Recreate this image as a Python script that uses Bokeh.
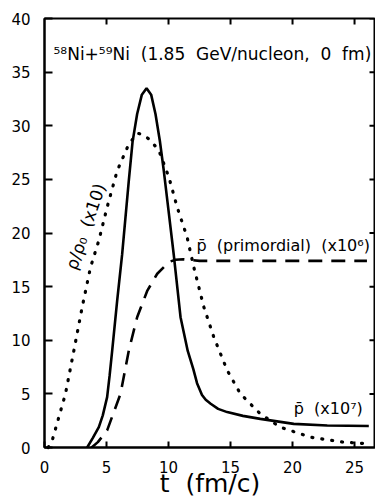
from bokeh.plotting import figure
from bokeh.models import SingleIntervalTicker, Range1d, Label
from bokeh.embed import file_html
from bokeh.resources import INLINE
import math

# p-bar (x10^7), solid
t_pbar = [3.44, 3.9, 4.38, 4.7, 5.05, 5.25, 5.46, 5.86, 6.26, 6.8, 7.1, 7.47, 7.85, 8.23, 8.6,
          8.95, 9.3, 9.62, 10.03, 10.43, 10.97, 11.55, 12.0, 12.3, 12.7, 13.0, 13.4, 14.0,
          14.73, 16.0, 17.4, 20.1, 22.8, 26.15]
v_pbar = [0.0, 0.9, 1.9, 3.0, 4.7, 6.7, 9.05, 13.7, 18.0, 24.9, 28.5, 31.1, 32.9, 33.5, 32.9,
          31.1, 28.6, 25.8, 21.8, 17.9, 12.15, 9.0, 7.3, 6.0, 4.9, 4.45, 4.08, 3.6,
          3.3, 2.95, 2.67, 2.2, 2.05, 2.0]

# rho/rho0 (x10), dotted
t_rho = [0.3, 0.62, 1.69, 2.37, 3.04, 3.71, 4.38, 5.05, 5.86, 6.8, 7.5, 7.88, 8.5, 9.22,
         10.03, 10.7, 11.5, 12.04, 12.85, 13.65, 14.73, 15.8, 17.4, 19.0, 21.45, 24.1, 26.15]
v_rho = [0.0, 0.65, 5.0, 9.05, 13.1, 16.8, 19.3, 22.4, 25.8, 28.3, 29.3, 29.2, 28.7, 27.7,
         25.2, 22.4, 19.6, 16.8, 13.1, 10.3, 7.2, 5.0, 3.14, 1.9, 0.96, 0.5, 0.34]

# primordial p-bar (x10^6), dashed
t_prim = [3.8, 4.3, 5.05, 6.13, 6.8, 7.47, 8.28, 9.09, 10.03, 10.56, 11.2, 12.5, 26.0]
v_prim = [0.0, 0.5, 1.6, 5.0, 9.05, 12.15, 14.6, 16.2, 17.3, 17.5, 17.55, 17.4, 17.4]

# tick values
x_ticks = [5, 10, 15, 20, 25]
y_ticks = [5, 10, 15, 20, 25, 30, 35, 40]

NB = "\u00a0"
# annotations
ann_text = ["\u2075\u2078Ni+\u2075\u2079Ni" + NB + " (1.85" + NB + " GeV/nucleon," + NB + " 0" + NB + " fm)",
            "p\u0304" + NB + " (primordial)" + NB + " (x10\u2076)",
            "p\u0304" + NB + " (x10\u2077)",
            "\u03c1/\u03c1\u2080" + NB + " (x10)"]
ann_t = [0.73, 12.26, 20.1, 3.31]
ann_v = [36.7, 18.84, 3.64, 20.6]
ann_size = ["17px", "16px", "16px", "17px"]
ann_angle = [0, 0, 0, 71]
ann_align = ["left", "left", "left", "center"]

FONT = "DejaVu Sans"
X_END = 26.69
Y_END = 40

p = figure(width=375, height=500, x_range=Range1d(0, X_END), y_range=Range1d(0, Y_END),
           output_backend="svg", toolbar_location=None,
           min_border_left=44, min_border_right=0, min_border_top=18, min_border_bottom=53)
p.xgrid.visible = False
p.ygrid.visible = False
p.outline_line_color = "black"
p.outline_line_width = 2

p.line(t_pbar, v_pbar, line_color="black", line_width=2.6)
p.line(t_prim, v_prim, line_color="black", line_width=2.6, line_dash="14 9")

# inward ticks on top and right sides
p.ray(x=x_ticks, y=[Y_END] * len(x_ticks), length=6, length_units="screen",
      angle=-90, angle_units="deg", line_color="black", line_width=2)
p.ray(x=[X_END] * len(y_ticks), y=y_ticks, length=6, length_units="screen",
      angle=180, angle_units="deg", line_color="black", line_width=2)

dotted = p.line(t_rho, v_rho, line_color="black", line_width=3.2, line_dash="1 9",
                line_cap="round")
dotted.level = "overlay"

for t, v, s, size, ang, al in zip(ann_t, ann_v, ann_text, ann_size, ann_angle, ann_align):
    p.add_layout(Label(x=t, y=v, text=s, text_font=FONT, text_font_size=size,
                       text_baseline="middle", text_align=al, angle=math.radians(ang),
                       text_color="black", level="overlay"))

ax = p.xaxis[0]
ax.ticker = SingleIntervalTicker(interval=5)
ax.major_tick_in = 6
ax.major_tick_out = 0
ax.minor_tick_line_color = None
ax.major_label_standoff = 9
ax.major_label_text_font = FONT
ax.major_label_text_font_size = "15px"
ax.major_label_text_color = "black"
ax.axis_line_color = "black"
ax.axis_line_width = 2
ax.major_tick_line_color = "black"
ax.major_tick_line_width = 2
ax.axis_label = "t" + NB + NB + "(fm/c)"
ax.axis_label_text_font = FONT
ax.axis_label_text_font_size = "25px"
ax.axis_label_text_font_style = "normal"
ax.axis_label_text_color = "black"
ax.axis_label_standoff = -7

ay = p.yaxis[0]
ay.ticker = SingleIntervalTicker(interval=5)
ay.major_tick_in = 8
ay.major_tick_out = 0
ay.minor_tick_line_color = None
ay.major_label_standoff = 10
ay.major_label_text_font = FONT
ay.major_label_text_font_size = "15px"
ay.major_label_text_color = "black"
ay.axis_line_color = "black"
ay.axis_line_width = 2
ay.major_tick_line_color = "black"
ay.major_tick_line_width = 2

open("out.html", "w").write(file_html(p, INLINE))
